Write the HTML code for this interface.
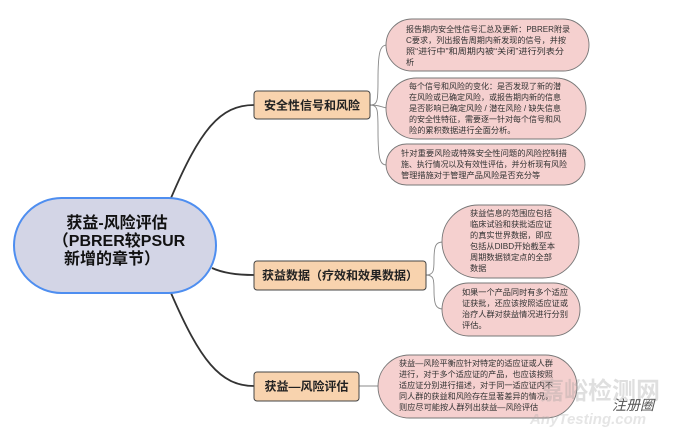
<!DOCTYPE html>
<html><head><meta charset="utf-8"><style>
html,body{margin:0;padding:0;background:#fff;}
svg{display:block;}
text{font-family:"Liberation Sans","Noto Sans CJK SC",sans-serif;}
.l{font-size:8.2px;fill:#333;}
.b{font-size:12px;font-weight:bold;fill:#222;}
.c{font-size:16px;font-weight:bold;fill:#111;}
</style></head><body>
<svg width="680" height="432" viewBox="0 0 680 432" xmlns="http://www.w3.org/2000/svg">
<g fill="none" stroke="#333" stroke-width="1.8">
<path d="M171,198 C200,130 220,105 254,105"/>
<path d="M212,268 C225,274 240,275 254,275"/>
<path d="M171,293 C200,360 220,386 254,386"/>
</g>
<g fill="none" stroke="#888" stroke-width="0.9">
<path d="M370,105 C378,105 378,100 378,80 C378,52 380,45 387,45"/>
<path d="M370,105 C380,105 380,107 387,108"/>
<path d="M370,105 C378,105 378,110 378,130 C378,160 380,165 387,165"/>
<path d="M426,275 C434,275 434,270 434,260 C434,245 436,242 443,242"/>
<path d="M426,275 C434,275 434,280 434,290 C434,305 436,309 443,309"/>
<path d="M359,386 L379,386"/>
</g>
<rect x="14" y="198" width="202" height="95" rx="47.5" fill="#d3d5e6" stroke="#4e8ef0" stroke-width="2"/>
<text class="c" x="117" y="228" text-anchor="middle">获益-风险评估</text>
<text class="c" x="119" y="246" text-anchor="middle">（PBRER较PSUR</text>
<text class="c" x="112" y="264" text-anchor="middle">新增的章节）</text>
<g fill="#f8d3ae" stroke="#444" stroke-width="1">
<rect x="254" y="91" width="116" height="28" rx="3"/>
<rect x="254" y="261" width="172" height="29" rx="3"/>
<rect x="254" y="372" width="105" height="29" rx="3"/>
</g>
<text class="b" x="312" y="109.5" text-anchor="middle">安全性信号和风险</text>
<text class="b" x="340" y="279.5" text-anchor="middle">获益数据（疗效和效果数据）</text>
<text class="b" x="306.5" y="390.5" text-anchor="middle">获益—风险评估</text>
<g fill="#f5d0cf" stroke="#777" stroke-width="0.9">
<rect x="386" y="19" width="203" height="52" rx="26"/>
<rect x="386" y="78" width="200" height="61" rx="30.5"/>
<rect x="386" y="144" width="199" height="41" rx="20.5"/>
<rect x="442" y="205" width="137" height="73" rx="36.5"/>
<rect x="442" y="283" width="138" height="53" rx="26.5"/>
<rect x="378" y="355" width="199" height="63" rx="31.5"/>
</g>
<g class="l">
<text x="406" y="32" textLength="164" lengthAdjust="spacingAndGlyphs">报告期内安全性信号汇总及更新：PBRER附录</text>
<text x="406" y="43" textLength="160" lengthAdjust="spacingAndGlyphs">C要求，列出报告周期内新发现的信号，并按</text>
<text x="406" y="54" textLength="158" lengthAdjust="spacingAndGlyphs">照“进行中”和周期内被“关闭”进行列表分</text>
<text x="406" y="65">析</text>
<text x="409" y="89" textLength="152" lengthAdjust="spacingAndGlyphs">每个信号和风险的变化：是否发现了新的潜</text>
<text x="409" y="100" textLength="152" lengthAdjust="spacingAndGlyphs">在风险或已确定风险，或报告期内新的信息</text>
<text x="409" y="111" textLength="152" lengthAdjust="spacingAndGlyphs">是否影响已确定风险 / 潜在风险 / 缺失信息</text>
<text x="409" y="122" textLength="152" lengthAdjust="spacingAndGlyphs">的安全性特征，需要逐一针对每个信号和风</text>
<text x="409" y="133">险的累积数据进行全面分析。</text>
<text x="401" y="156" textLength="166" lengthAdjust="spacingAndGlyphs">针对重要风险或特殊安全性问题的风险控制措</text>
<text x="401" y="167" textLength="166" lengthAdjust="spacingAndGlyphs">施、执行情况以及有效性评估，并分析现有风险</text>
<text x="401" y="178">管理措施对于管理产品风险是否充分等</text>
<text x="470" y="216">获益信息的范围应包括</text>
<text x="470" y="227">临床试验和获批适应证</text>
<text x="470" y="238">的真实世界数据，即应</text>
<text x="470" y="249">包括从DIBD开始截至本</text>
<text x="470" y="260">周期数据锁定点的全部</text>
<text x="470" y="271">数据</text>
<text x="462" y="295" textLength="106" lengthAdjust="spacingAndGlyphs">如果一个产品同时有多个适应</text>
<text x="462" y="306" textLength="106" lengthAdjust="spacingAndGlyphs">证获批，还应该按照适应证或</text>
<text x="462" y="317" textLength="106" lengthAdjust="spacingAndGlyphs">治疗人群对获益情况进行分别</text>
<text x="462" y="328">评估。</text>
<text x="399" y="366" textLength="154" lengthAdjust="spacingAndGlyphs">获益—风险平衡应针对特定的适应证或人群</text>
<text x="399" y="377" textLength="154" lengthAdjust="spacingAndGlyphs">进行，对于多个适应证的产品，也应该按照</text>
<text x="399" y="388" textLength="154" lengthAdjust="spacingAndGlyphs">适应证分别进行描述，对于同一适应证内不</text>
<text x="399" y="399" textLength="154" lengthAdjust="spacingAndGlyphs">同人群的获益和风险存在显著差异的情况，</text>
<text x="399" y="410">则应尽可能按人群列出获益—风险评估</text>
</g>
<g opacity="0.3">
<text x="540" y="399" style="font-size:24px;font-weight:bold;fill:#999">嘉峪检测网</text>
<text x="530" y="424" style="font-size:15px;font-style:italic;font-weight:bold;fill:#aaa">AnyTesting.com</text>
</g>
<text x="612" y="410" style="font-size:14px;fill:#555;font-style:italic">注册圈</text>
</svg>
</body></html>
